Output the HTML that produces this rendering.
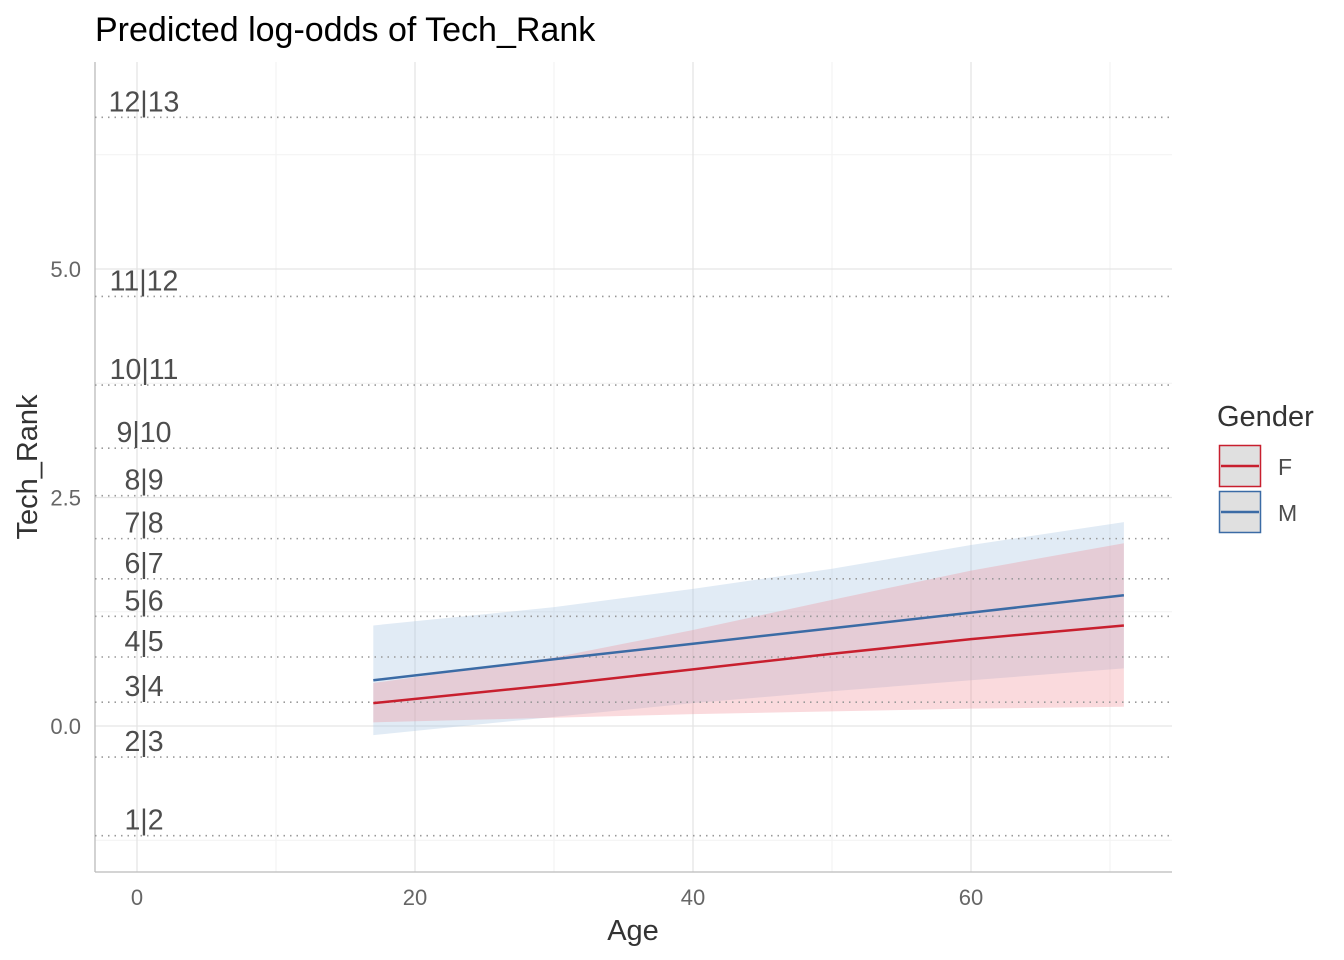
<!DOCTYPE html>
<html><head><meta charset="utf-8"><style>body{margin:0;background:#fff}svg{display:block;font-family:"Liberation Sans",sans-serif}</style></head>
<body>
<svg id="chart" width="1344" height="960" xmlns="http://www.w3.org/2000/svg"></svg>
<script>
const xTicks=[0,20,40,60];
const yTicks=[0,2.5,5.0];
const yTickLabels=["0.0","2.5","5.0"];
const thresholds=[6.66,4.70,3.73,3.04,2.52,2.05,1.61,1.20,0.755,0.26,-0.34,-1.20];
const thresholdLabels=["12|13","11|12","10|11","9|10","8|9","7|8","6|7","5|6","4|5","3|4","2|3","1|2"];
const ages=[17,30,40,50,60,71];
const fFit=[0.25,0.45,0.62,0.79,0.95,1.10];
const fLow=[0.04,0.09,0.13,0.16,0.19,0.21];
const fHigh=[0.47,0.75,1.05,1.38,1.70,2.0];
const mFit=[0.50,0.73,0.90,1.07,1.24,1.43];
const mLow=[-0.10,0.10,0.25,0.38,0.50,0.63];
const mHigh=[1.10,1.30,1.50,1.72,1.98,2.23];

const svg=document.getElementById('chart');
const NS='http://www.w3.org/2000/svg';
const X=v=>137+v*13.9;
const Y=v=>726-v*91.4;
function el(tag,attrs,parent){const e=document.createElementNS(NS,tag);for(const k in attrs)e.setAttribute(k,attrs[k]);(parent||svg).appendChild(e);return e;}
function txt(s,attrs){const t=el('text',attrs);t.textContent=s;return t;}

[10,30,50,70].forEach(v=>{const l=el('line',{x1:X(v),x2:X(v),y1:62,y2:872,stroke:'#f2f2f2','stroke-width':1});

});
[-1.25,1.25,3.75,6.25].forEach(v=>{const l=el('line',{x1:95,x2:1172,y1:Y(v),y2:Y(v),stroke:'#f2f2f2','stroke-width':1});

});
xTicks.forEach(v=>{const l=el('line',{x1:X(v),x2:X(v),y1:62,y2:872,stroke:'#e5e5e5','stroke-width':1.3});


const t=txt(String(v),{x:X(v),y:905,'text-anchor':'middle','font-size':22,fill:'#666'});

});
yTicks.forEach((v,i)=>{const l=el('line',{x1:95,x2:1172,y1:Y(v),y2:Y(v),stroke:'#e5e5e5','stroke-width':1.3});


const t=txt(yTickLabels[i],{x:81,y:Y(v)+8,'text-anchor':'end','font-size':22,fill:'#666'});

});
const ax1=el('line',{x1:95,x2:95,y1:62,y2:872,stroke:'#bbb','stroke-width':1.3});


const ax2=el('line',{x1:95,x2:1172,y1:872,y2:872,stroke:'#bbb','stroke-width':1.3});



function ribbon(lo,hi,fill,name){let d='';ages.forEach((a,i)=>{d+=(i?'L':'M')+X(a)+','+Y(hi[i]);});
for(let i=ages.length-1;i>=0;i--)d+='L'+X(ages[i])+','+Y(lo[i]);
const p=el('path',{d:d+'Z',fill:fill});

}
ribbon(mLow,mHigh,'rgba(170,198,226,0.35)','ribbon-m');
ribbon(fLow,fHigh,'rgba(240,140,150,0.32)','ribbon-f');

thresholds.forEach((v,i)=>{const l=el('line',{x1:95,x2:1172,y1:Y(v),y2:Y(v),stroke:'#999','stroke-width':1.6,'stroke-dasharray':'1.5,5'});


const t=txt(thresholdLabels[i],{x:X(0)+7,y:Y(v)-6,'text-anchor':'middle','font-size':28.5,fill:'#4d4d4d'});

});

function line(vals,col,name){const p=el('polyline',{points:ages.map((a,i)=>X(a)+','+Y(vals[i])).join(' '),fill:'none',stroke:col,'stroke-width':2.5});

}
line(mFit,'#3b6ba5','line-m');
line(fFit,'#c81f2e','line-f');

let t=txt('Predicted log-odds of Tech_Rank',{x:95,y:41,'font-size':34,fill:'#000'});


t=txt('Age',{x:633,y:940,'text-anchor':'middle','font-size':29,fill:'#333'});


t=txt('Tech_Rank',{x:0,y:0,'text-anchor':'middle','font-size':29,fill:'#333',transform:'translate(37,467) rotate(-90)'});



t=txt('Gender',{x:1217,y:426,'font-size':29,fill:'#333'});


[['F','#c81f2e',445],['M','#3b6ba5',491]].forEach(([lab,col,y])=>{
const r=el('rect',{x:1219.5,y:y+0.5,width:41,height:41,fill:'#e0e0e0',stroke:col,'stroke-width':1.5});


const l=el('line',{x1:1221,x2:1259,y1:y+21,y2:y+21,stroke:col,'stroke-width':2.5});


const tt=txt(lab,{x:1278,y:y+30,'font-size':23,fill:'#4d4d4d'});

});
</script>
</body></html>
